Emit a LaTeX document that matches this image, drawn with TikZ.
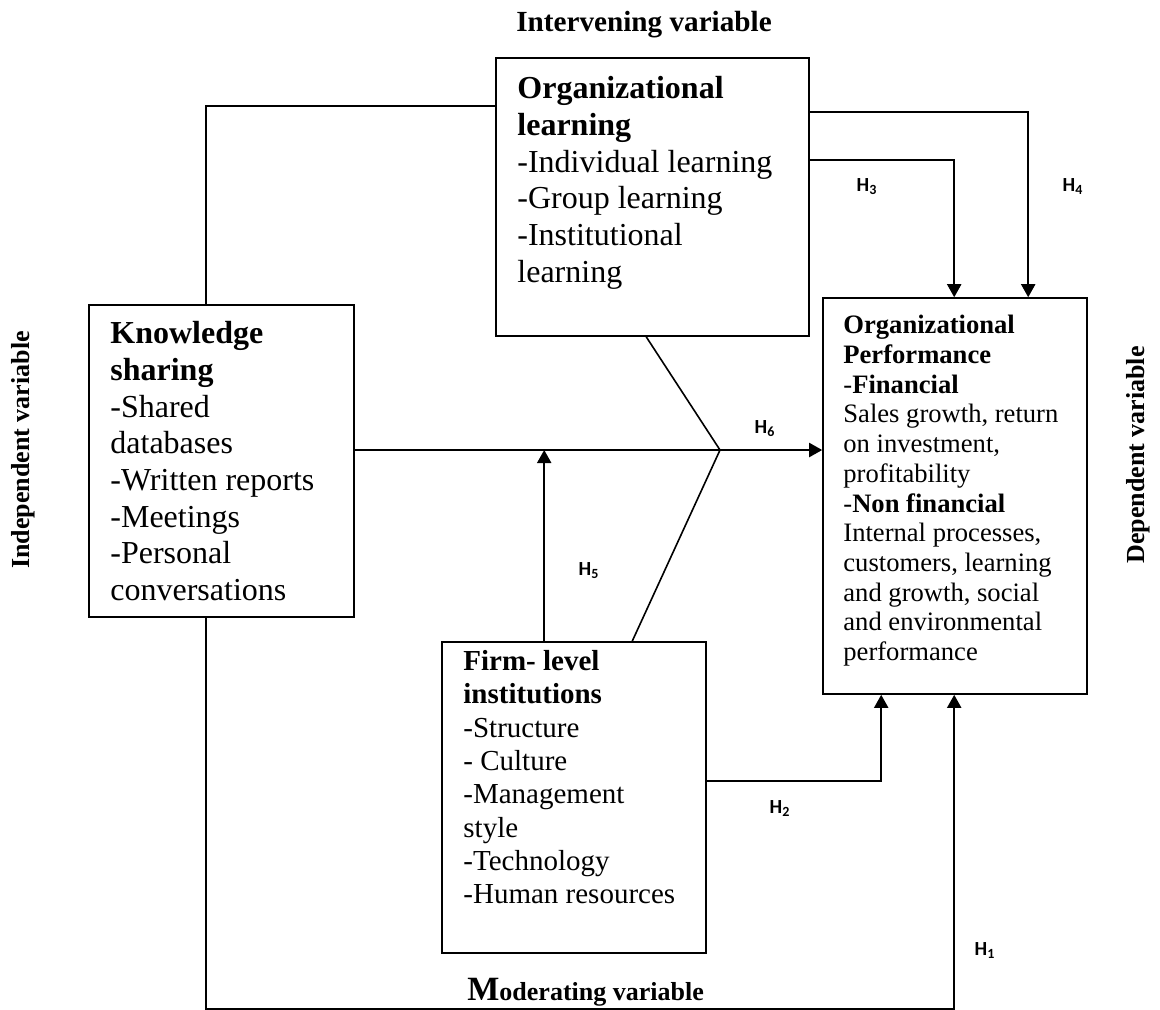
\documentclass[tikz,border=0pt]{standalone}
\usepackage{fontspec}
\setmainfont{Liberation Serif}
\newfontfamily\hfont{Carlito}
\usetikzlibrary{arrows.meta}

\begin{document}
\begin{tikzpicture}[x=0.5pt,y=-0.5pt,
	box/.style={draw,line width=0.8pt,inner sep=0pt},
	txt/.style={anchor=north west,inner sep=0pt,align=left},
	link/.style={line width=1pt},
	arr/.style={line width=1pt,-{Triangle[length=6.5pt,width=7pt]}},
	hyp/.style={font={\hfont\bfseries\fontsize{10}{12}\selectfont},inner sep=0pt},
	var/.style={font={\bfseries\fontsize{13}{15}\selectfont},inner sep=0pt}]
	\useasboundingbox (0,0) rectangle (1160,1009);
	% boxes
	\node[box,minimum width=156.5pt,minimum height=139pt] (ol) at (652.5,197) {};
	\node[box,minimum width=132.5pt,minimum height=156pt] (ks) at (221.5,461) {};
	\node[box,minimum width=132pt,minimum height=198pt] (op) at (955,496) {};
	\node[box,minimum width=132pt,minimum height=155.5pt] (fl) at (574,797.5) {};
	% box texts
	\node[txt,font={\fontsize{16}{18.35}\selectfont}] (olt) at (517,76)
		{\textbf{Organizational}\\\textbf{learning}\\-Individual learning\\-Group learning\\-Institutional\\learning};
	\node[txt,font={\fontsize{16}{18.35}\selectfont}] (kst) at (110,321)
		{\textbf{Knowledge}\\\textbf{sharing}\\-Shared\\databases\\-Written reports\\-Meetings\\-Personal\\conversations};
	\node[txt,font={\fontsize{13.3}{14.85}\selectfont}] (opt) at (843,315)
		{\textbf{Organizational}\\\textbf{Performance}\\-\textbf{Financial}\\Sales growth, return\\on investment,\\profitability\\-\textbf{Non financial}\\Internal processes,\\customers, learning\\and growth, social\\and environmental\\performance};
	\node[txt,font={\fontsize{14.5}{16.65}\selectfont}] (flt) at (463,650)
		{\textbf{Firm- level}\\\textbf{institutions}\\-Structure\\- Culture\\-Management\\style\\-Technology\\-Human resources};
	% variable labels
	\node[var,font={\bfseries\fontsize{14.6}{16}\selectfont},anchor=base] (inv) at (644,31) {Intervening variable};
	\node[var,rotate=90] (ind) at (23,450) {Independent variable};
	\node[var,rotate=90] (dep) at (1138,455) {Dependent variable};
	\node[anchor=base west,inner sep=0pt,font=\bfseries] (mod) at (467,1000)
		{{\fontsize{17}{18}\selectfont M}{\fontsize{13}{15}\selectfont oderating variable}};
	% connectors
	\coordinate (j) at (720,450);
	\coordinate (h5) at ([shift={(103,0)}]fl.north west);
	\coordinate (h1) at ([shift={(132,0)}]op.south west);
	\draw[link] ([shift={(118,0)}]ks.north west) |- ([shift={(0,49)}]ol.north west);
	\draw[arr] ([shift={(0,55)}]ol.north east) -| ([shift={(206,0)}]op.north west);
	\draw[arr] ([shift={(0,103)}]ol.north east) -| ([shift={(132,0)}]op.north west);
	\draw[arr] (ks.east |- j) -- (j -| op.west);
	\draw[line width=0.8pt] ([shift={(151,0)}]ol.south west) -- (j) -- ([shift={(191,0)}]fl.north west);
	\draw[arr] (h5) -- (h5 |- j);
	\draw[arr] ([shift={(0,140)}]fl.north east) -| ([shift={(59,0)}]op.south west);
	\draw[arr] ([shift={(118,0)}]ks.south west) -- ++(0,391) -| (h1);
	% hypotheses
	\node[hyp] (hy3) at (867,187) {H\textsubscript{3}};
	\node[hyp] (hy4) at (1073,187) {H\textsubscript{4}};
	\node[hyp] (hy6) at (765,429) {H\textsubscript{6}};
	\node[hyp] (hy5) at (589,571) {H\textsubscript{5}};
	\node[hyp] (hy2) at (780,808) {H\textsubscript{2}};
	\node[hyp] (hy1) at (985,950) {H\textsubscript{1}};
\end{tikzpicture}
\end{document}
